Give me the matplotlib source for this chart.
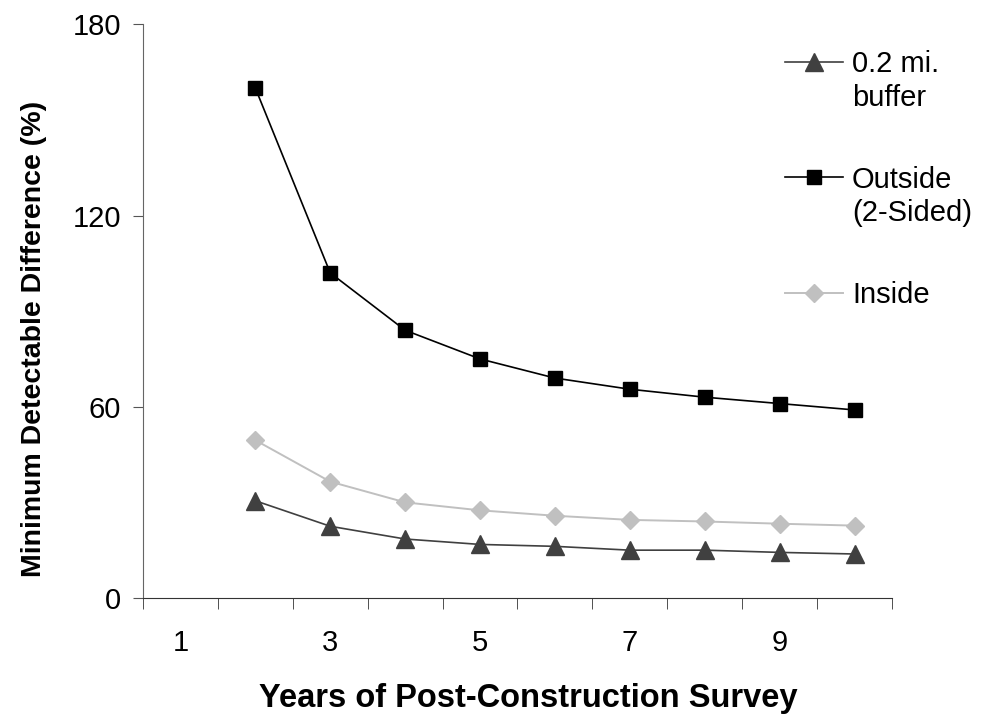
import numpy as np
import matplotlib
matplotlib.use("Agg")
import matplotlib.pyplot as plt

plt.rcParams['font.family'] = ['Liberation Sans', 'DejaVu Sans']

# data (year 1 has no value)
years = [2, 3, 4, 5, 6, 7, 8, 9, 10]
buffer_02 = [30.5, 22.5, 18.5, 16.8, 16.2, 15.0, 15.0, 14.3, 13.8]
outside = [160, 102, 84, 75, 69, 65.5, 63, 61, 59]
inside = [49.5, 36.5, 30, 27.5, 25.8, 24.5, 24, 23.3, 22.7]
year_labels = [1, 3, 5, 7, 9]

fig = plt.figure(figsize=(9.84, 7.14), dpi=100)
ax = fig.add_axes([0.1453, 0.1625, 0.7612, 0.8035])

ax.plot(years, buffer_02, color='#404040', lw=1.2, marker='^', ms=13, mec='#404040', label='0.2 mi.')
ax.plot(years, outside, color='black', lw=1.2, marker='s', ms=10, label='Outside')
ax.plot(years, inside, color='#c0c0c0', lw=1.4, marker='D', ms=9, label='Inside')

ax.set_xlim(0.5, 10.5)
ax.set_ylim(0, 180)
ax.set_yticks([0, 60, 120, 180])
ax.set_xticks(year_labels)
ax.set_xticks(np.arange(0.5, 11, 1), minor=True)
ax.tick_params(axis='x', which='major', length=0, pad=22, labelsize=21)
ax.tick_params(axis='x', which='minor', length=8, direction='out', color='#333333')
ax.tick_params(axis='y', length=7, direction='out', labelsize=21, pad=9, color='#555555')

for s in ['top', 'right']:
    ax.spines[s].set_visible(False)
ax.spines['left'].set_color('#666666')
ax.spines['bottom'].set_color('#333333')

ax.set_xlabel('Years of Post-Construction Survey', fontsize=23.5, fontweight='bold')
ax.set_ylabel('Minimum Detectable Difference (%)', fontsize=20.5, fontweight='bold')
ax.xaxis.set_label_coords(0.514, -0.148)
ax.yaxis.set_label_coords(-0.128, 0.451)

leg = ax.legend(loc='upper left', bbox_to_anchor=(785 / 984, 1 - 50 / 714),
                bbox_transform=fig.transFigure, frameon=False, fontsize=21,
                handlelength=2.0, handletextpad=0.3, labelspacing=3.0,
                borderpad=0, borderaxespad=0)
fig.canvas.draw()
second_lines = ['buffer', '(2-Sided)', None]
for t, extra in zip(leg.get_texts(), second_lines):
    if extra:
        ax.annotate(extra, xy=(0, 0), xycoords=t, xytext=(0, -4),
                    textcoords='offset points', va='top', ha='left',
                    fontsize=21, zorder=6, annotation_clip=False)

fig.savefig('out.png', dpi=100)
